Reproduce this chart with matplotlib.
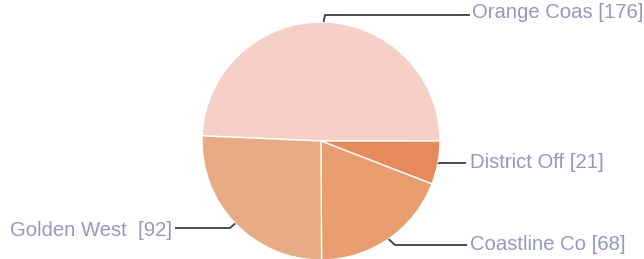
import matplotlib.pyplot as plt
import numpy as np

# Slice data
labels = ['Orange Coas', 'District Off', 'Coastline Co', 'Golden West ']
values = [176, 21, 68, 92]
colors = ['#F6D0C7', '#E68A5C', '#E99E70', '#E8AC84']

W, H = 644, 259
fig = plt.figure(figsize=(W / 100, H / 100), dpi=100)
ax = fig.add_axes([0, 0, 1, 1])

cx, cy, r = 321, H - 141, 119
wedges, _ = ax.pie(values, colors=colors, startangle=177.5, counterclock=False,
                   center=(cx, cy), radius=r, frame=True,
                   wedgeprops=dict(edgecolor='white', linewidth=1))
ax.set_xlim(0, W)
ax.set_ylim(0, H)
ax.set_aspect('equal')
ax.axis('off')

text_color = '#9597C2'
line_color = '#3A3D48'

# leader elbow, leader end, text x, alignment, text y (pixel coords)
label_pos = [
    ((325, 15), (470, 15), 472, 'left', 13),
    ((438, 163), (466, 163), 470, 'left', 163),
    ((395, 245), (467, 245), 470, 'left', 245),
    ((230, 228), (175, 228), 172, 'right', 230),
]

for w, lab, val, (elbow, end, tx, ha, ty) in zip(wedges, labels, values, label_pos):
    mid = np.deg2rad((w.theta1 + w.theta2) / 2)
    px = cx + r * np.cos(mid)
    py = cy + r * np.sin(mid)
    xs = [px, elbow[0], end[0]]
    ys = [py, H - elbow[1], H - end[1]]
    ax.plot(xs, ys, color=line_color, lw=1.3, solid_capstyle='butt')
    ax.text(tx, H - ty, f'{lab} [{val}]', ha=ha, va='center', fontsize=14.6,
            color=text_color, family='Liberation Sans')

fig.savefig('out.png', dpi=100)
